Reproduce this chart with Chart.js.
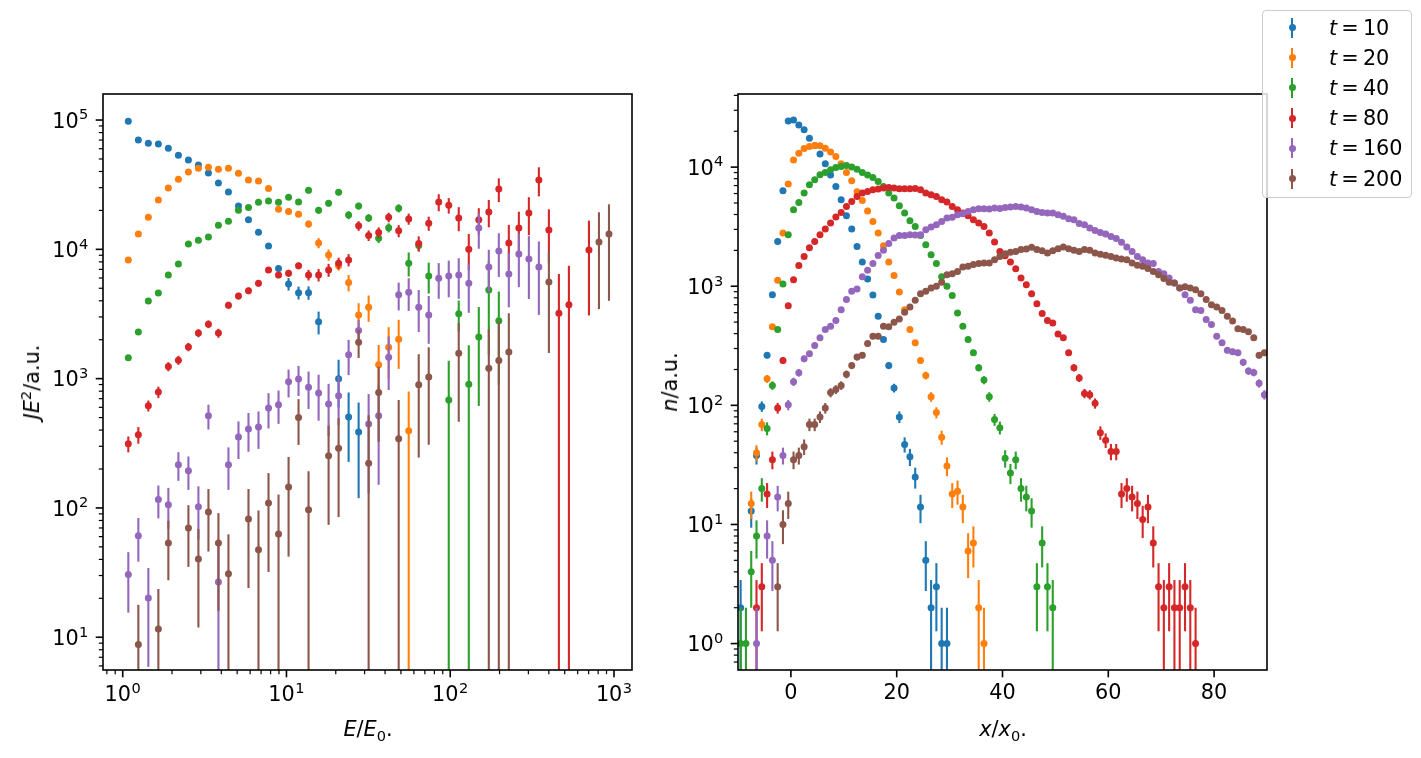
<!DOCTYPE html>
<html lang="en">
<head>
<meta charset="UTF-8">
<title>Spectrum and profile at several times</title>
<script src="https://cdn.jsdelivr.net/npm/chart.js"></script>
<style>
    body {
        margin: 0;
        width: 1421px;
        height: 758px;
        position: relative;
        overflow: hidden;
        background: #fff;
        font-family: 'DejaVu Sans', sans-serif;
        color: #000;
    }
    .panel { position: absolute; top: 0; }
    .axis-label {
        position: absolute;
        font-size: 20.8px;
        white-space: nowrap;
        transform: translate(-50%, -50%);
    }
    .axis-label.rot { transform: translate(-50%, -50%) rotate(-90deg); }
    .axis-label sub, .axis-label sup { font-size: 70%; line-height: 0; }
    .legend {
        position: absolute;
        left: 1262px; top: 10px;
        width: 148px; height: 186px;
        border: 1px solid #cccccc;
        border-radius: 4px;
        background: rgba(255, 255, 255, 0.8);
    }
    .legend .row { position: absolute; left: 0; height: 30px; width: 100%; }
    .legend .bar { position: absolute; left: 28px; top: 5px; width: 2px; height: 20px; }
    .legend .dot { position: absolute; left: 25.5px; top: 11.5px; width: 7px; height: 7px; border-radius: 50%; }
    .legend .txt { position: absolute; left: 66px; top: 0; font-size: 20.8px; line-height: 30px; white-space: nowrap; }
</style>
</head>
<body>
<div class="panel" style="left:0px"><canvas id="spectrum" width="680" height="758"></canvas></div>
<div class="panel" style="left:680px"><canvas id="profile" width="741" height="758"></canvas></div>

<div class="axis-label rot" style="left:32px; top:382px"><i>JE</i><sup>2</sup>/a.u.</div>
<div class="axis-label" style="left:368px; top:729px"><i>E</i>/<i>E</i><sub>0</sub>.</div>
<div class="axis-label rot" style="left:670px; top:382px"><i>n</i>/a.u.</div>
<div class="axis-label" style="left:1003px; top:729px"><i>x</i>/<i>x</i><sub>0</sub>.</div>
<div class="legend" id="legend"></div>

<script>
// series names and colours (matplotlib tab10)
const times = [10, 20, 40, 80, 160, 200];
const colors = ['#1f77b4', '#ff7f0e', '#2ca02c', '#d62728', '#9467bd', '#8c564b'];

// ---- left panel: JE^2 against E/E0 (log bins) ----
const energyBins = [1.082, 1.246, 1.434, 1.651, 1.900, 2.188, 2.519, 2.899, 3.338, 3.842,
    4.423, 5.092, 5.862, 6.748, 7.768, 8.943, 10.30, 11.85, 13.64, 15.71,
    18.08, 20.81, 23.96, 27.58, 31.75, 36.55, 42.08, 48.44, 55.77, 64.20,
    73.90, 85.07, 97.94, 112.7, 129.8, 149.4, 172.0, 198.0, 227.9, 262.4,
    302.1, 347.7, 400.3, 460.8, 530.5, 610.7, 703.1, 809.4, 931.8];

const specT10 = [98000, 70000, 66000, 65300, 60400, 53300, 49100, 44900, 38900, 32600,
    27800, 21600, 16900, 13550, 10600, 7100, 5400, 4620, 4620, 2750,
    null, 1000, 504, 386];
const errT10 = [0, 0, 0, 0, 0, 0, 0, 0, 0, 0,
    0, 0, 0, 0, 0, 300, 600, 530, 550, 550,
    null, 400, 277, 267];

const specT20 = [8280, 13150, 17700, 24100, 29800, 34800, 39600, 42300, 43100, 41600,
    42300, 38700, 34400, 33800, 29600, 20400, 19600, 18700, 15700, 11200,
    9060, 7450, 5530, 3110, 3570, 1280, 1750, 2020, 395];
const errT20 = [0, 0, 0, 0, 0, 0, 0, 0, 0, 0,
    0, 0, 0, 0, 0, 800, 800, 900, 1000, 1000,
    900, 600, 800, 720, 820, 540, 750, 830, 400];

const specT40 = [1450, 2290, 3990, 4600, 6340, 7710, 11000, 11750, 12470, 15360,
    16500, 20100, 21100, 23100, 23600, 23100, 25300, 23200, 28600, 20100,
    22700, 27600, 18400, 21600, 17500, 12200, 14700, 20800, 7810, 10700,
    6220, null, 683, 3170, 906, 2095, 4850, 2800];
const errT40 = [0, 0, 0, 0, 0, 0, 0, 0, 0, 0,
    0, 0, 0, 0, 0, 0, 0, 0, 1500, 1200,
    1300, 1500, 1300, 1300, 1200, 1000, 1200, 1500, 1650, 1000,
    1670, null, 690, 850, 910, 1480, 3330, 1910];

const specT80 = [313, 368, 617, 787, 1240, 1390, 1760, 2250, 2640, 2250,
    3700, 4350, 4780, 5470, 6930, 6340, 6530, 7450, 6340, 6340,
    6930, 7810, 8280, 15200, 12800, 13500, 17700, 13900, 17200, 11100,
    15900, 23200, 21900, 17500, 10000, 16900, 19450, 29300, 11200, 14600,
    19100, 34400, 14100, 3210, 3720, null, 9880];
const errT80 = [44, 54, 60, 80, 100, 110, 130, 160, 180, 180,
    230, 260, 280, 320, 380, 370, 400, 450, 600, 700,
    800, 800, 900, 1300, 1200, 1300, 1500, 1500, 1700, 1500,
    2000, 3500, 3000, 3700, 3150, 3900, 4650, 6100, 4250, 4950,
    6200, 8700, 6300, 3240, 3730, null, 6800];

const specT160 = [30.5, 61, 20.1, 116, 106, 216, 194, 102, 516, 26.7,
    216, 353, 407, 422, 592, 628, 945, 995, 859, 773,
    636, 736, 1530, 2355, 445, 516, 1466, 4450, 4660, 3570,
    3110, 5980, 6220, 6340, 5470, 14600, 7310, 9720, 6460, 9200,
    8430, 7310];
const errT160 = [15, 22.6, 14.2, 33, 37, 54, 56, 45, 112, 28,
    78, 114, 135, 136, 180, 181, 230, 260, 276, 300,
    276, 300, 465, 500, 315, 365, 650, 1080, 1320, 1280,
    1250, 1840, 1960, 2200, 2240, 4500, 2600, 3600, 2900, 4100,
    4300, 4200];

const specT200 = [null, 8.8, null, 11.6, 53.6, null, 70, 40.3, 93, 53.6,
    31, null, 82, 47.6, 109, 63, 145, 501, 97, null,
    253, 290, null, 1915, 222, 781, null, 343, null, 895,
    1028, null, null, 1574, null, null, 1205, 1380, 1604, null,
    null, null, 5580, null, null, null, null, 11400, 13150];
const errT200 = [null, 9, null, 12, 26, null, 35, 28.4, 47, 37.6,
    31.5, null, 58, 48, 77, 64, 103, 194, 95, null,
    179, 205, null, 470, 300, 456, null, 340, null, 650,
    720, null, null, 1110, null, null, 1210, 1400, 1600, null,
    null, null, 4000, null, null, null, null, 7950, 9150];

// ---- right panel: counts n against x/x0 (unit bins) ----
const posBins = [-9.5, -8.5, -7.5, -6.5, -5.5, -4.5, -3.5, -2.5, -1.5, -0.5,
    0.5, 1.5, 2.5, 3.5, 4.5, 5.5, 6.5, 7.5, 8.5, 9.5,
    10.5, 11.5, 12.5, 13.5, 14.5, 15.5, 16.5, 17.5, 18.5, 19.5,
    20.5, 21.5, 22.5, 23.5, 24.5, 25.5, 26.5, 27.5, 28.5, 29.5,
    30.5, 31.5, 32.5, 33.5, 34.5, 35.5, 36.5, 37.5, 38.5, 39.5,
    40.5, 41.5, 42.5, 43.5, 44.5, 45.5, 46.5, 47.5, 48.5, 49.5,
    50.5, 51.5, 52.5, 53.5, 54.5, 55.5, 56.5, 57.5, 58.5, 59.5,
    60.5, 61.5, 62.5, 63.5, 64.5, 65.5, 66.5, 67.5, 68.5, 69.5,
    70.5, 71.5, 72.5, 73.5, 74.5, 75.5, 76.5, 77.5, 78.5, 79.5,
    80.5, 81.5, 82.5, 83.5, 84.5, 85.5, 86.5, 87.5, 88.5, 89.5];

const profT10 = [2, null, 13, 38, 98, 264, 850, 2370, 6330, 24400,
    24900, 22600, 20600, 17500, 15200, 12900, 10660, 8570, 6880, 5320,
    3900, 3020, 2160, 1600, 1150, 845, 560, 357, 216, 140,
    80, 47, 37, 25, 14, 5, 2, 3, 1, 1];

const profT20 = [null, null, 15, 40, 69, 167, 456, 1120, 2800, 7200,
    11500, 13100, 14300, 14900, 15200, 15100, 14400, 13400, 12300, 10660,
    9020, 7680, 6210, 5250, 4280, 3500, 2800, 2190, 1600, 1230,
    896, 636, 433, 335, 238, 178, 118, 87, 54, 31,
    18, 19, 14, 6, 7, 2, 1];

const profT40 = [1, 1, 4, 8, 20, 64, 147, 433, 1045, 2710,
    4390, 5050, 6050, 7110, 7830, 8620, 9020, 9490, 9930, 10100,
    10300, 10000, 9600, 9020, 8570, 8190, 7570, 6880, 6050, 5500,
    4740, 4110, 3550, 3180, 2660, 2230, 1840, 1550, 1200, 998,
    834, 597, 461, 357, 276, 207, 163, 118, 76, 65,
    36, 27, 35, 20, 17, 13, 3, 7, 3, 2];

const profT80 = [null, null, null, 2, 3, 18, 35, 95, 238, 687,
    1136, 1490, 1780, 2100, 2380, 2710, 3020, 3400, 3810, 4160,
    4670, 5150, 5670, 6050, 6250, 6450, 6550, 6670, 6740, 6670,
    6590, 6590, 6590, 6620, 6450, 6050, 5860, 5670, 5320, 5090,
    4670, 4390, 4110, 3900, 3620, 3400, 3180, 2800, 2350, 1960,
    1800, 1600, 1400, 1170, 1030, 866, 714, 589, 515, 492,
    398, 369, 276, 207, 170, 126, 123, 104, 59, 51,
    41, 41, 18, 20, 17, 15, 11, 14, 7, 3,
    2, 3, 2, 2, 3, 2, 1];

const profT160 = [null, null, null, 1, null, 8, 5, 17, 38, 101,
    158, 188, 246, 271, 318, 369, 433, 461, 515, 636,
    772, 906, 950, 1200, 1360, 1550, 1815, 2000, 2280, 2540,
    2660, 2660, 2700, 2690, 2700, 2980, 3140, 3280, 3500, 3740,
    3790, 3980, 4060, 4240, 4390, 4470, 4470, 4440, 4530, 4500,
    4580, 4620, 4670, 4620, 4530, 4390, 4240, 4160, 4110, 4110,
    3980, 3860, 3690, 3620, 3370, 3280, 3080, 2940, 2830, 2740,
    2620, 2510, 2340, 2130, 1960, 1780, 1670, 1570, 1550, 1330,
    1270, 1170, 1066, 968, 850, 762, 636, 626, 525, 477,
    380, 335, 290, 282, 276, 230, 194, 189, 153, 123];

const profT200 = [null, null, null, null, null, null, null, 3, 10, 15,
    35, 38, 45, 69, 69, 80, 95, 128, 136, 147,
    182, 216, 254, 264, 330, 380, 380, 461, 457, 498,
    532, 604, 670, 762, 866, 906, 968, 998, 1080, 1250,
    1270, 1330, 1450, 1470, 1520, 1550, 1570, 1570, 1670, 1780,
    1877, 1930, 1960, 2030, 2050, 2120, 2030, 1990, 1900, 1990,
    2060, 2130, 2060, 2000, 1960, 2030, 2000, 1900, 1860, 1820,
    1780, 1730, 1690, 1670, 1570, 1500, 1470, 1410, 1330, 1250,
    1160, 1080, 1066, 968, 990, 968, 935, 866, 772, 700,
    670, 626, 560, 510, 440, 433, 414, 369, 264, 276];

const specSeries = [specT10, specT20, specT40, specT80, specT160, specT200];
const specErrors = [errT10, errT20, errT40, errT80, errT160, errT200];
const profSeries = [profT10, profT20, profT40, profT80, profT160, profT200];

// axis ticks
const specXMajor = [1, 10, 100, 1000];
const specYMajor = [10, 100, 1000, 10000, 100000];
const profXMajor = [0, 20, 40, 60, 80];
const profYMajor = [1, 10, 100, 1000, 10000];

const FONT = 20.8;      // 10 pt at 150 dpi
const SUP_FONT = 14.6;
const FAMILY = "'DejaVu Sans', sans-serif";
Chart.defaults.font.family = FAMILY;
Chart.defaults.color = '#000';

// minor log ticks (2..9 times each decade) inside [min, max]
function logMinors(min, max) {
    const out = [];
    for (let e = Math.floor(Math.log10(min)); e <= Math.ceil(Math.log10(max)); e++) {
        for (let m = 2; m <= 9; m++) {
            const v = m * Math.pow(10, e);
            if (v >= min && v <= max) out.push(v);
        }
    }
    return out;
}

// draws "10^k" (or a plain number) with a raised exponent; align = 'right' | 'center'
function drawTickLabel(ctx, value, isLog, x, baseline, align) {
    const main = isLog ? '10' : String(value);
    const exp = isLog ? String(Math.round(Math.log10(value))) : '';
    ctx.font = FONT + 'px ' + FAMILY;
    const w1 = ctx.measureText(main).width;
    ctx.font = SUP_FONT + 'px ' + FAMILY;
    const w2 = exp ? ctx.measureText(exp).width + 0.5 : 0;
    const w = w1 + w2;
    const x0 = align === 'right' ? x - w : x - w / 2;
    ctx.textAlign = 'left';
    ctx.textBaseline = 'alphabetic';
    ctx.font = FONT + 'px ' + FAMILY;
    ctx.fillText(main, x0, baseline);
    if (exp) {
        ctx.font = SUP_FONT + 'px ' + FAMILY;
        ctx.fillText(exp, x0 + w1 + 0.5, baseline - 8.3);
    }
}

// vertical error bars, drawn under each dataset's markers
const errorBars = {
    id: 'errorBars',
    beforeDatasetDraw(chart, args) {
        const ds = chart.data.datasets[args.index];
        const { ctx, chartArea: a, scales: { x, y } } = chart;
        ctx.save();
        ctx.beginPath();
        ctx.rect(a.left, a.top, a.right - a.left, a.bottom - a.top);
        ctx.clip();
        ctx.strokeStyle = ds.backgroundColor;
        ctx.lineWidth = 2.1;
        ds.data.forEach(p => {
            if (!p.e) return;
            const px = x.getPixelForValue(p.x);
            const top = y.getPixelForValue(p.y + p.e);
            const lo = p.y - p.e;
            const bot = lo > 0 ? y.getPixelForValue(lo) : a.bottom + 5;
            ctx.beginPath();
            ctx.moveTo(px, top);
            ctx.lineTo(px, bot);
            ctx.stroke();
        });
        ctx.restore();
    }
};

// axes box, tick marks (major and minor) and tick labels
const frame = {
    id: 'frame',
    afterDraw(chart, args, opts) {
        const { ctx, chartArea: a, scales: { x, y } } = chart;
        ctx.save();
        ctx.strokeStyle = '#000';
        ctx.fillStyle = '#000';
        const marks = (vals, scale, len, w) => {
            ctx.lineWidth = w;
            vals.forEach(v => {
                const p = scale.getPixelForValue(v);
                ctx.beginPath();
                if (scale.isHorizontal()) {
                    ctx.moveTo(p, a.bottom);
                    ctx.lineTo(p, a.bottom + len);
                } else {
                    ctx.moveTo(a.left, p);
                    ctx.lineTo(a.left - len, p);
                }
                ctx.stroke();
            });
        };
        marks(opts.xMajor, x, 7.3, 1.6);
        marks(opts.xMinor, x, 4.2, 1.2);
        marks(opts.yMajor, y, 7.3, 1.6);
        marks(opts.yMinor, y, 4.2, 1.2);
        ctx.lineWidth = 1.6;
        ctx.strokeRect(a.left, a.top, a.right - a.left, a.bottom - a.top);

        opts.xMajor.forEach(v => {
            const base = a.bottom + (opts.xLog ? 31 : 29);
            drawTickLabel(ctx, v, opts.xLog, x.getPixelForValue(v), base, 'center');
        });
        opts.yMajor.forEach(v => {
            drawTickLabel(ctx, v, true, a.left - 14.6, y.getPixelForValue(v) + 7.6, 'right');
        });
        ctx.restore();
    }
};

function buildDatasets(xs, series, errors) {
    return series.map((vals, k) => {
        const pts = [];
        vals.forEach((v, i) => {
            if (v == null) return;
            // left panel: errors; right panel: counting errors
            const e = errors ? errors[k][i] : Math.sqrt(v);
            pts.push({ x: xs[i], y: v, e: e });
        });
        return {
            label: 't = ' + times[k],
            data: pts,
            backgroundColor: colors[k],
            borderColor: colors[k],
            pointRadius: 3.5,
            pointHoverRadius: 3.5,
            pointBorderWidth: 0,
            showLine: false,
            clip: 0,
            order: series.length - k
        };
    });
}

function scaleOpts(type, min, max, fitSize, horizontal) {
    return {
        type: type,
        min: min,
        max: max,
        afterFit: s => { if (horizontal) s.height = fitSize; else s.width = fitSize; },
        ticks: { display: false },
        grid: { display: false, drawTicks: false },
        border: { display: false }
    };
}

function makeChart(id, xs, series, errors, axes, padding) {
    return new Chart(document.getElementById(id), {
        type: 'scatter',
        data: { datasets: buildDatasets(xs, series, errors) },
        options: {
            responsive: false,
            animation: false,
            events: [],
            layout: { padding: padding },
            plugins: {
                legend: { display: false },
                tooltip: { enabled: false },
                frame: axes.frame
            },
            scales: { x: axes.x, y: axes.y }
        },
        plugins: [errorBars, frame]
    });
}

// left panel
const sxMin = 0.758, sxMax = 1288, syMin = 5.58, syMax = 159000;
makeChart('spectrum', energyBins, specSeries, specErrors, {
    x: scaleOpts('logarithmic', sxMin, sxMax, 88, true),
    y: scaleOpts('logarithmic', syMin, syMax, 103, false),
    frame: {
        xLog: true,
        xMajor: specXMajor, xMinor: logMinors(sxMin, sxMax),
        yMajor: specYMajor, yMinor: logMinors(syMin, syMax)
    }
}, { top: 94, right: 48, bottom: 0, left: 0 });

// right panel
const pxMin = -10, pxMax = 90, pyMin = 0.611, pyMax = 41100;
makeChart('profile', posBins, profSeries, null, {
    x: scaleOpts('linear', pxMin, pxMax, 88, true),
    y: scaleOpts('logarithmic', pyMin, pyMax, 58, false),
    frame: {
        xLog: false,
        xMajor: profXMajor, xMinor: [],
        yMajor: profYMajor, yMinor: logMinors(pyMin, pyMax)
    }
}, { top: 94, right: 154, bottom: 0, left: 0 });

// legend
const legend = document.getElementById('legend');
times.forEach((t, k) => {
    const row = document.createElement('div');
    row.className = 'row';
    row.style.top = (1.5 + k * 30.2) + 'px';
    row.innerHTML = '<div class="bar" style="background:' + colors[k] + '"></div>' +
        '<div class="dot" style="background:' + colors[k] + '"></div>' +
        '<div class="txt"><i>t</i>\u2009=\u2009' + t + '</div>';
    legend.appendChild(row);
});
</script>
</body>
</html>
